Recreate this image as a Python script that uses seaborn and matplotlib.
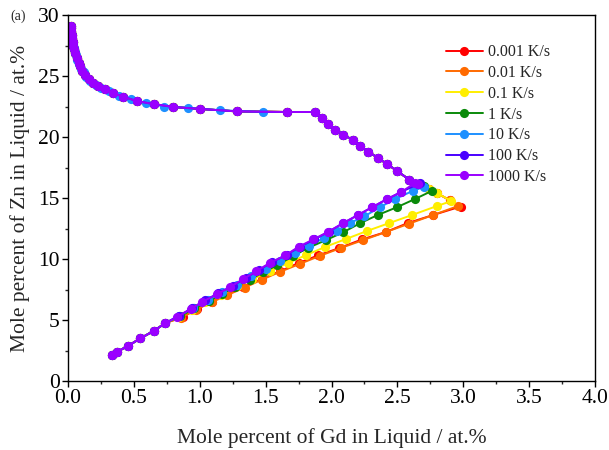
import matplotlib
matplotlib.use("Agg")
import matplotlib.pyplot as plt
from matplotlib.ticker import MultipleLocator, FormatStrFormatter
import seaborn as sns
import pandas as pd

# ---------------- data ----------------
RATES = ["0.001 K/s", "0.01 K/s", "0.1 K/s", "1 K/s", "10 K/s", "100 K/s", "1000 K/s"]
COLORS = ["#FF0000", "#FF6A00", "#FFEE00", "#0A8A0A", "#1E90FF", "#4A00FF", "#9A00FF"]

# common start of the lower branch
START_X = [0.334, 0.37, 0.455, 0.55, 0.65, 0.74]
START_Y = [2.13, 2.38, 2.87, 3.5, 4.1, 4.75]

# lower branches (after the common start) up to the apex
RED_X = [0.87, 0.98, 1.09, 1.21, 1.33, 1.47, 1.61, 1.75, 1.90, 2.06, 2.23, 2.41, 2.58, 2.77, 2.98]
RED_Y = [5.25, 5.9, 6.5, 7.1, 7.7, 8.36, 9.0, 9.67, 10.3, 10.9, 11.6, 12.2, 12.95, 13.6, 14.3]
ORANGE_X = [0.86, 0.97, 1.09, 1.21, 1.34, 1.47, 1.61, 1.76, 1.91, 2.07, 2.24, 2.41, 2.59, 2.77, 2.96]
ORANGE_Y = [5.2, 5.85, 6.45, 7.05, 7.65, 8.3, 8.95, 9.6, 10.25, 10.9, 11.55, 12.2, 12.9, 13.6, 14.34]
YELLOW_X = [0.84, 0.94, 1.04, 1.16, 1.28, 1.40, 1.53, 1.67, 1.81, 1.95, 2.11, 2.27, 2.44, 2.61, 2.80, 2.91]
YELLOW_Y = [5.25, 5.85, 6.45, 7.05, 7.75, 8.35, 9.0, 9.67, 10.33, 10.98, 11.64, 12.3, 12.95, 13.6, 14.34, 14.75]
GREEN_X = [0.85, 0.96, 1.07, 1.17, 1.27, 1.38, 1.48, 1.59, 1.71, 1.82, 1.96, 2.09, 2.22, 2.35, 2.50, 2.63, 2.76]
GREEN_Y = [5.3, 5.95, 6.55, 7.15, 7.7, 8.3, 8.9, 9.5, 10.25, 10.9, 11.56, 12.2, 12.95, 13.6, 14.26, 14.9, 15.57]
BLUE_X = [0.84, 0.95, 1.06, 1.17, 1.28, 1.39, 1.50, 1.61, 1.72, 1.83, 1.94, 2.04, 2.14, 2.25, 2.37, 2.48, 2.62, 2.70]
BLUE_Y = [5.3, 6.0, 6.6, 7.3, 7.9, 8.6, 9.2, 9.85, 10.5, 11.1, 11.7, 12.3, 12.95, 13.5, 14.26, 14.9, 15.6, 15.9]
INDIGO_X = [0.84, 0.94, 1.04, 1.14, 1.25, 1.35, 1.45, 1.55, 1.66, 1.76, 1.87, 1.98, 2.09, 2.20, 2.31, 2.42, 2.53, 2.67]
INDIGO_Y = [5.35, 5.95, 6.6, 7.2, 7.8, 8.45, 9.1, 9.75, 10.35, 11.0, 11.6, 12.25, 12.95, 13.6, 14.25, 14.9, 15.5, 16.2]
PURPLE_X = [0.83, 0.93, 1.02, 1.13, 1.23, 1.33, 1.43, 1.53, 1.65, 1.75, 1.86, 1.97, 2.09, 2.20, 2.31, 2.42, 2.53, 2.63]
PURPLE_Y = [5.25, 5.9, 6.5, 7.1, 7.7, 8.36, 9.0, 9.67, 10.3, 11.0, 11.6, 12.2, 12.95, 13.6, 14.26, 14.9, 15.5, 16.2]

# connection from apex back to the common upper (eutectic valley) path
LINK_HI_X = [2.90, 2.80, 2.74]
LINK_HI_Y = [14.8, 15.4, 15.75]
LINK_MID_X = [2.80, 2.74]
LINK_MID_Y = [15.4, 15.75]
LINK_GREEN_X = [2.70]
LINK_GREEN_Y = [16.0]

# common upper path, from the apex region back to the Zn-rich end
UPPER_X = [2.66, 2.59, 2.50, 2.42, 2.35, 2.28, 2.22, 2.16, 2.09, 2.03, 1.97, 1.93, 1.875,
           1.66, 1.28, 1.00, 0.80, 0.65, 0.52, 0.42, 0.34, 0.28, 0.23, 0.19, 0.16, 0.13,
           0.11, 0.09, 0.08, 0.065, 0.055, 0.045, 0.04, 0.035, 0.03, 0.027, 0.025, 0.022, 0.02]
UPPER_Y = [16.15, 16.5, 17.2, 17.8, 18.3, 18.8, 19.26, 19.75, 20.2, 20.6, 21.1, 21.56, 22.05,
           22.05, 22.1, 22.3, 22.46, 22.7, 22.95, 23.3, 23.6, 23.9, 24.15, 24.4, 24.75, 25.1,
           25.45, 25.8, 26.1, 26.5, 26.85, 27.2, 27.45, 27.75, 28.1, 28.4, 28.7, 28.9, 29.1]
# upper path as sampled for the 10 K/s curve (x < 1.875)
BLUE_UPPER_X = [1.48, 1.15, 0.91, 0.73, 0.59, 0.48, 0.39, 0.31, 0.25, 0.21, 0.17, 0.14,
                0.12, 0.10, 0.085, 0.07, 0.06, 0.05, 0.042, 0.036, 0.031, 0.027, 0.024, 0.021]
BLUE_UPPER_Y = [22.05, 22.2, 22.4, 22.5, 22.8, 23.1, 23.4, 23.75, 24.05, 24.3, 24.6, 24.95,
                25.3, 25.6, 25.95, 26.3, 26.7, 27.0, 27.3, 27.65, 27.95, 28.3, 28.6, 29.0]

# ---------------- assemble each curve ----------------
n_slope = UPPER_X.index(1.875) + 1
curves = {
    "0.001 K/s": (START_X + RED_X + LINK_HI_X + UPPER_X, START_Y + RED_Y + LINK_HI_Y + UPPER_Y),
    "0.01 K/s": (START_X + ORANGE_X + LINK_HI_X + UPPER_X, START_Y + ORANGE_Y + LINK_HI_Y + UPPER_Y),
    "0.1 K/s": (START_X + YELLOW_X + LINK_MID_X + UPPER_X, START_Y + YELLOW_Y + LINK_MID_Y + UPPER_Y),
    "1 K/s": (START_X + GREEN_X + LINK_GREEN_X + UPPER_X, START_Y + GREEN_Y + LINK_GREEN_Y + UPPER_Y),
    "10 K/s": (START_X + BLUE_X + UPPER_X[:n_slope] + BLUE_UPPER_X,
               START_Y + BLUE_Y + UPPER_Y[:n_slope] + BLUE_UPPER_Y),
    "100 K/s": (START_X + INDIGO_X + UPPER_X, START_Y + INDIGO_Y + UPPER_Y),
    "1000 K/s": (START_X + PURPLE_X + UPPER_X, START_Y + PURPLE_Y + UPPER_Y),
}

# ---------------- plot ----------------
sns.set_style("ticks")
plt.rcParams["font.family"] = ["Liberation Serif", "DejaVu Serif"]

fig = plt.figure(figsize=(6.09, 4.5), dpi=100)
ax = fig.add_axes([68 / 609, 1 - 381 / 450, (595 - 68) / 609, (381 - 15) / 450])

for rate, col in zip(RATES, COLORS):
    xs, ys = curves[rate]
    df = pd.DataFrame({"x": xs, "y": ys})
    sns.lineplot(data=df, x="x", y="y", sort=False, estimator=None, ax=ax,
                 color=col, linewidth=1.4, marker="o", markersize=6.6,
                 markeredgewidth=0, label=rate)

ax.set_xlim(0, 4.0)
ax.set_ylim(0, 30)
ax.xaxis.set_major_locator(MultipleLocator(0.5))
ax.xaxis.set_minor_locator(MultipleLocator(0.25))
ax.yaxis.set_major_locator(MultipleLocator(5))
ax.yaxis.set_minor_locator(MultipleLocator(2.5))
ax.xaxis.set_major_formatter(FormatStrFormatter("%.1f"))
ax.yaxis.set_major_formatter(FormatStrFormatter("%d"))

ax.tick_params(axis="both", which="major", direction="out", length=4, width=1,
               labelsize=15.5, colors="black", top=False, right=False, pad=2)
ax.tick_params(axis="both", which="minor", direction="out", length=2.5, width=1,
               top=False, right=False)
for s in ax.spines.values():
    s.set_linewidth(1.0)
    s.set_color("black")
    s.set_visible(True)

ax.set_xlabel("Mole percent of Gd in Liquid / at.%", fontsize=15.5, labelpad=14)
ax.set_ylabel("Mole percent of Zn in Liquid / at.%", fontsize=15.5, labelpad=6)

leg = ax.legend(loc="upper left", bbox_to_anchor=(0.717, 0.92), frameon=False,
                fontsize=11.5, handlelength=2.3, handletextpad=0.35,
                labelspacing=0.3, borderaxespad=0, borderpad=0)

fig.text(10 / 609, 1 - 16 / 450, "(a)", fontsize=10, va="center", ha="left")

fig.savefig("out.png", dpi=100)
